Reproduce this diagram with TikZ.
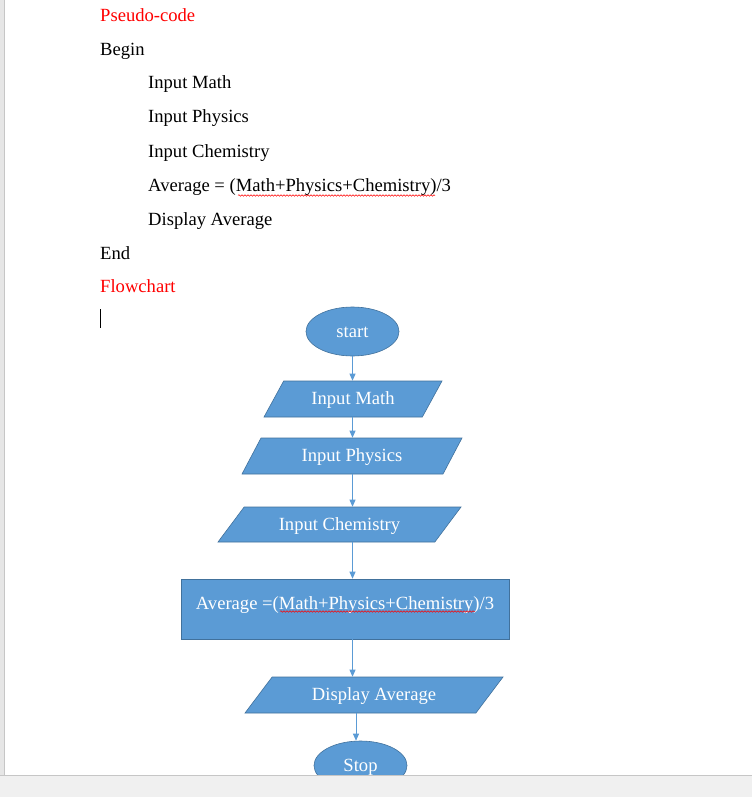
\documentclass[tikz,border=0pt]{standalone}
\usepackage{fontspec}
\setmainfont{Liberation Serif}
\usetikzlibrary{shapes.geometric,arrows.meta,decorations.pathmorphing}
\definecolor{fcblue}{HTML}{5B9BD5}
\definecolor{fcedge}{HTML}{41719C}
\definecolor{barfill}{HTML}{F0F0F0}
\definecolor{barline}{HTML}{C6C6C6}
\definecolor{stripfill}{HTML}{E6E6E6}
\begin{document}
\begin{tikzpicture}[x=1pt,y=-1pt,
  every node/.style={font=\fontsize{18.6}{22}\selectfont},
  code/.style={anchor=base west, inner sep=0pt},
  redtext/.style={code, text=red},
  shapebase/.style={draw=fcedge, fill=fcblue, text=white, inner sep=0pt, line width=0.6pt, text height=15pt, text depth=4pt},
  term/.style={shapebase, ellipse, minimum width=93pt, minimum height=49pt},
  io/.style={shapebase, trapezium, trapezium stretches body, minimum height=36pt},
  proc/.style={shapebase, rectangle, minimum width=328pt, minimum height=60pt, text height=13pt, text depth=13pt},
  arr/.style={draw=fcblue, line width=0.8pt, -{Triangle[length=7pt,width=6pt]}},
  squig/.style={draw=red, line width=0.5pt, decorate, decoration={snake, amplitude=0.8pt, segment length=3pt}}
]
\useasboundingbox (0,0) rectangle (752,797);
\fill[white] (0,0) rectangle (752,797);
% left strip
\fill[stripfill] (0,0) rectangle (4.5,797);
\draw[barline, line width=1pt] (4.5,0) -- (4.5,797);

% pseudo-code
\node[redtext] (t0) at (100,22) {Pseudo-code};
\node[code] (t1) at (100,56) {Begin};
\node[code] (t2) at (148,89) {Input Math};
\node[code] (t3) at (148,123) {Input Physics};
\node[code] (t4) at (148,157) {Input Chemistry};
\node[code] (t5) at (148,191) {Average = (Math+Physics+Chemistry)/3};
\node[code] (t6) at (148,225) {Display Average};
\node[code] (t7) at (100,259) {End};
\node[redtext] (t8) at (100,292) {Flowchart};
\draw[squig] (238,195.5) -- (435,195.5);
% cursor
\draw[black, line width=1pt] (100,309) -- (100,328);

% flowchart
\node[term] (start) at (352.5,331.5) {start};
\node[io, trapezium left angle=44, trapezium right angle=136, minimum width=178pt] (math) at (353,399) {Input Math};
\node[io, trapezium left angle=45, trapezium right angle=135, minimum width=220pt] (phys) at (352,456) {Input Physics};
\node[io, trapezium left angle=36, trapezium right angle=144, minimum width=243pt, minimum height=35pt] (chem) at (339.5,524.5) {Input Chemistry};
\node[proc] (avg) at (345,609) {Average =(Math+Physics+Chemistry)/3};
\draw[squig] (280,611.5) -- (475,611.5);
\node[io, trapezium left angle=35, trapezium right angle=145, minimum width=258pt] (disp) at (374,695) {Display Average};
\node[term] (stop) at (360.5,765.5) {Stop};

\draw[arr] (start.south) -- (start.south |- math.north);
\draw[arr] (math.south -| start) -- (phys.north -| start);
\draw[arr] (phys.south -| start) -- (chem.north -| start);
\draw[arr] (chem.south -| start) -- (avg.north -| start);
\draw[arr] (avg.south -| start) -- (disp.north -| start);
\draw[arr] ([xshift=-4.5pt]disp.south -| stop) -- ([xshift=-4.5pt]stop.north);

% bottom bar
\fill[barfill] (0,775) rectangle (752,797);
\draw[barline, line width=1pt] (0,775) -- (752,775);
\end{tikzpicture}
\end{document}
